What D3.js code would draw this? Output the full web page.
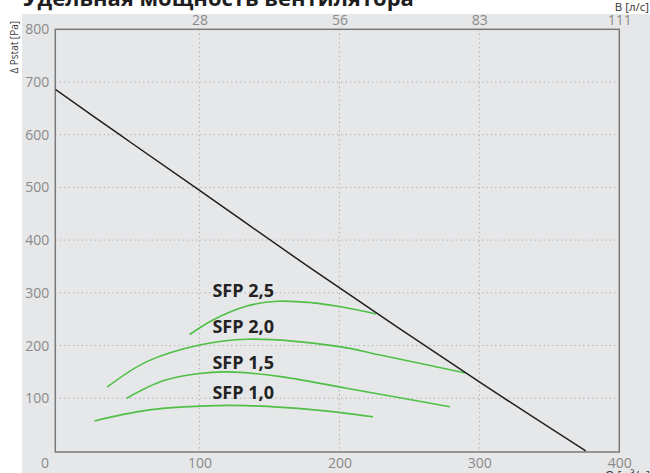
<!DOCTYPE html>
<html><head><meta charset="utf-8">
<script src="https://cdn.jsdelivr.net/npm/d3@7"></script>
<style>
html,body{margin:0;padding:0;background:#fff;overflow:hidden}
svg{display:block}
text{font-family:"Open Sans","Noto Sans",sans-serif}
</style></head>
<body>
<svg id="c" width="650" height="473"></svg>
<script>
// ---- data ----
const title = "Удельная мощность вентилятора";
const yAxisTitle = "Δ Pstat [Pa]";
const topAxisTitle = "В [л/с]";
const bottomAxisTitle = "Q [м³/ч]";
const xTicks = [0, 100, 200, 300, 400];
const yTicks = [0, 100, 200, 300, 400, 500, 600, 700, 800];
const topTickValues = [100, 200, 300, 400];
const topTickLabels = ["28", "56", "83", "111"];

const systemQ  = [-3, 43, 97, 181, 300, 376];
const systemPa = [686, 600, 500, 344, 131, 0];

const sfpNames = ["SFP 2,5", "SFP 2,0", "SFP 1,5", "SFP 1,0"];
const sfp25Q  = [93, 110, 134, 156, 181, 200, 226];
const sfp25Pa = [221, 249, 275, 284, 281, 274, 260];
const sfp20Q  = [34, 62, 100, 134, 200, 229, 290];
const sfp20Pa = [121, 169, 201, 212, 198, 182, 148];
const sfp15Q  = [48, 74, 100, 120, 158, 205, 279];
const sfp15Pa = [100, 133, 147, 150, 141, 119, 84];
const sfp10Q  = [25, 62, 100, 134, 182, 224];
const sfp10Pa = [57, 77, 85, 86, 78, 65];
const sfpQ  = [sfp25Q, sfp20Q, sfp15Q, sfp10Q];
const sfpPa = [sfp25Pa, sfp20Pa, sfp15Pa, sfp10Pa];

// ---- layout ----
const svg = d3.select("#c");
const L = 55.3, R = 619.3, T = 29.3, B = 452;
const x = d3.scaleLinear().domain([-3, 400]).range([L, R]);
const y = d3.scaleLinear().domain([-2, 800]).range([B, T]);

// background panel
svg.append("rect").attr("x", 22).attr("y", 14).attr("width", 650 - 22).attr("height", 473 - 14).attr("fill", "#e6e7e9");

// title (partly cut off at top)
svg.append("text").attr("x", 23).attr("y", 6).attr("font-size", 22).attr("font-weight", 700)
  .attr("fill", "#1e1e1e").text(title);

// grid
const gridColor = "#a9a9a9";
svg.append("g").selectAll("line").data(yTicks.filter(d => d > 0 && d < 800)).join("line")
  .attr("x1", L).attr("x2", R).attr("y1", d => y(d)).attr("y2", d => y(d))
  .attr("stroke", gridColor).attr("stroke-width", 1).attr("stroke-dasharray", "1.2,3.2");
svg.append("g").selectAll("line").data(xTicks.filter(d => d > 0 && d < 400)).join("line")
  .attr("y1", T).attr("y2", B).attr("x1", d => x(d)).attr("x2", d => x(d))
  .attr("stroke", gridColor).attr("stroke-width", 1).attr("stroke-dasharray", "1.2,3.2");

// axes (labels only)
const tickColor = "#8a8a8a";
function styleAxis(g) {
  g.select(".domain").remove();
  g.selectAll(".tick line").remove();
  g.selectAll(".tick text").attr("fill", tickColor).attr("font-size", 14)
    .attr("font-family", "'Open Sans','Noto Sans',sans-serif");
}
const gx = svg.append("g").attr("transform", `translate(0,${B})`)
  .call(d3.axisBottom(x).tickValues(xTicks).tickFormat(d3.format("d")).tickSize(0).tickPadding(6))
  .call(styleAxis);
gx.selectAll(".tick text").filter(d => d === 0).attr("dx", -15);

const gy = svg.append("g").attr("transform", `translate(${L},0)`)
  .call(d3.axisLeft(y).tickValues(yTicks.filter(d => d > 0)).tickFormat(d3.format("d")).tickSize(0).tickPadding(6))
  .call(styleAxis);

const gt = svg.append("g").attr("transform", `translate(0,${T})`)
  .call(d3.axisTop(x).tickValues(topTickValues).tickFormat((d, i) => topTickLabels[i]).tickSize(0).tickPadding(4))
  .call(styleAxis);

// axis titles
svg.append("text").attr("transform", "translate(18,21) rotate(-90)").attr("text-anchor", "end")
  .attr("font-size", 10).attr("fill", "#333").text(yAxisTitle);
svg.append("text").attr("x", 649).attr("y", 11).attr("text-anchor", "end")
  .attr("font-size", 11.5).attr("fill", "#333").text(topAxisTitle);
svg.append("text").attr("x", 650).attr("y", 480).attr("text-anchor", "end")
  .attr("font-size", 12).attr("fill", "#333").text(bottomAxisTitle);

// frame
svg.append("rect").attr("x", L).attr("y", T).attr("width", R - L).attr("height", B - T)
  .attr("fill", "none").attr("stroke", "#7a7a7a").attr("stroke-width", 1.5);

// curves
const line = d3.line().x(d => x(d[0])).y(d => y(d[1])).curve(d3.curveCatmullRom.alpha(0.5));
svg.append("clipPath").attr("id", "pc").append("rect")
  .attr("x", L).attr("y", T).attr("width", R - L).attr("height", B - T);
const plot = svg.append("g").attr("clip-path", "url(#pc)");

sfpQ.forEach((qs, i) => {
  plot.append("path").datum(qs.map((q, j) => [q, sfpPa[i][j]])).attr("d", line)
    .attr("fill", "none").attr("stroke", "#4fbf46").attr("stroke-width", 1.6);
});
plot.append("path").datum(systemQ.map((q, j) => [q, systemPa[j]]))
  .attr("d", line)
  .attr("fill", "none").attr("stroke", "#1e1e1e").attr("stroke-width", 1.5);

// SFP labels
const labelQ = 109.3;
const labelPa = [293, 223, 155.4, 98];
sfpNames.forEach((n, i) => {
  svg.append("text").attr("x", x(labelQ)).attr("y", y(labelPa[i]))
    .attr("font-size", 18).attr("font-weight", 700).attr("fill", "#222").text(n);
});
</script>
</body></html>
